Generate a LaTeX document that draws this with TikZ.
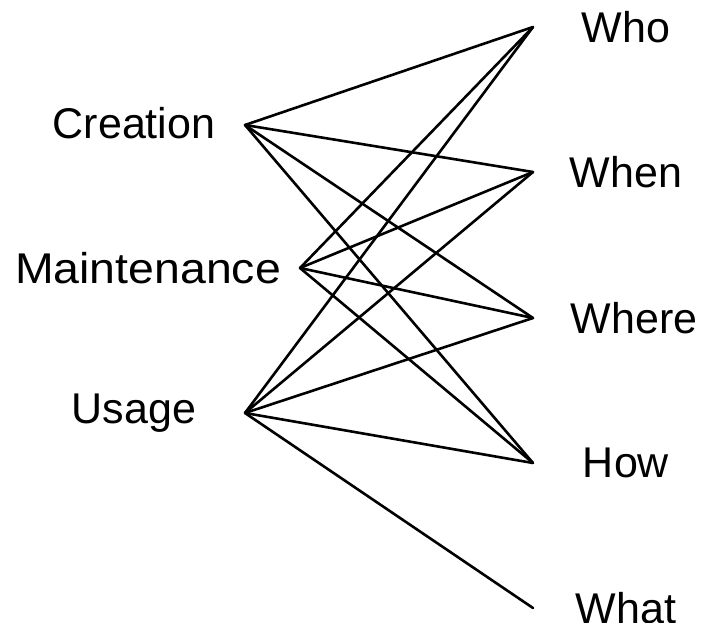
\documentclass[tikz,border=0pt]{standalone}
\usepackage{fontspec}
\setmainfont{Liberation Sans}
\begin{document}
\begin{tikzpicture}[x=1pt,y=-1pt,
  lbl/.style={font=\fontsize{43}{50}\selectfont, inner sep=0pt, anchor=center},
  conn/.style={line width=2.6pt, line cap=round, line join=round}]
\useasboundingbox (0,0) rectangle (705,623);
% left labels
\node[lbl] (creation) at (134,123) {Creation};
\node[lbl, xscale=1.08] (maint) at (148,268) {Maintenance};
\node[lbl] (usage) at (134,413) {Usage};
% right labels
\node[lbl] (who) at (626,27) {Who};
\node[lbl] (when) at (626,172) {When};
\node[lbl] (where) at (634,318) {Where};
\node[lbl] (how) at (626,463) {How};
\node[lbl] (what) at (626,608) {What};
% anchor points
\coordinate (c) at (245,125);
\coordinate (m) at (300,268);
\coordinate (u) at (245,413);
\coordinate (rwho) at (533,27);
\coordinate (rwhen) at (533,172);
\coordinate (rwhere) at (533,318);
\coordinate (rhow) at (533,463);
\coordinate (rwhat) at (533,608);
% connectors
\foreach \s in {c,m} {
  \foreach \t in {rwho,rwhen,rwhere,rhow} {
    \draw[conn] (\s) -- (\t);
  }
}
\foreach \t in {rwho,rwhen,rwhere,rhow,rwhat} {
  \draw[conn] (u) -- (\t);
}
\end{tikzpicture}
\end{document}
